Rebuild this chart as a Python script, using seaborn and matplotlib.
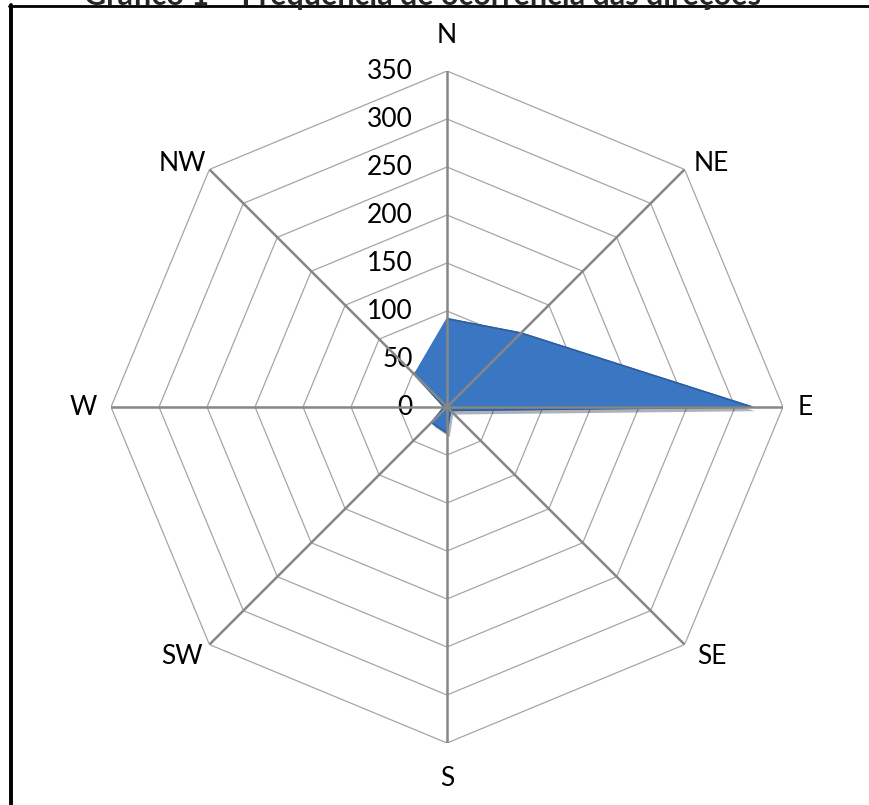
import numpy as np
import pandas as pd
import seaborn as sns
import matplotlib
matplotlib.use("Agg")
from matplotlib import pyplot as plt
from matplotlib.lines import Line2D
import matplotlib.patheffects as pe

# frequency per wind direction
directions = ["N", "NE", "E", "SE", "S", "SW", "W", "NW"]
counts = [92, 109, 318, 5, 27, 23, 3, 48]
rings = [50, 100, 150, 200, 250, 300, 350]
ring_labels = ["0", "50", "100", "150", "200", "250", "300", "350"]
title = "Gráfico 1 – Frequência de ocorrência das direções"

sns.set_theme(style="white")
plt.rcParams['font.family'] = ['Lato', 'DejaVu Sans']

angles = np.arange(len(directions)) * 2 * np.pi / len(directions)
df = pd.DataFrame({"theta": np.append(angles, angles[0]),
                   "r": counts + counts[:1]})

fig = plt.figure(figsize=(8.69, 8.05), dpi=100)
ax = fig.add_axes([111 / 869, 62 / 805, 672 / 869, 672 / 805], projection="polar")
ax.set_theta_zero_location("N")
ax.set_theta_direction(-1)
ax.set_ylim(0, 350)
ax.grid(False)
ax.set_xticks([])
ax.set_yticks([])
ax.spines["polar"].set_visible(False)
ax.patch.set_alpha(0)

closed = np.append(angles, angles[0])
for r in rings:
    ax.plot(closed, [r] * len(closed), color="#a6a6a6", lw=0.9, zorder=1)

# the series
ax.fill(df["theta"], df["r"], color="#3b76c3", zorder=2,
        path_effects=[pe.SimplePatchShadow(offset=(2, -3), alpha=0.35), pe.Normal()])
sns.lineplot(data=df, x="theta", y="r", sort=False, ax=ax, color="#2d5f9e",
             lw=1.2, zorder=3)
ax.set_xlabel("")
ax.set_ylabel("")

for a in angles:
    ax.plot([a, a], [0, 350], color="#878787", lw=1.8, zorder=4)

# radial value labels along the N spoke
for i, lab in enumerate(ring_labels):
    ax.annotate(lab, xy=(0, i * 50), xytext=(-34, 0), textcoords="offset pixels",
                ha="right", va="center", fontsize=19, color="black")

# direction labels
offsets = {"N": (0, 36), "NE": (27, 6), "E": (22, 0), "SE": (27, -12),
           "S": (0, -35), "SW": (-27, -12), "W": (-28, 0), "NW": (-27, 6)}
for a, d in zip(angles, directions):
    ax.annotate(d, xy=(a, 350), xytext=offsets[d], textcoords="offset pixels",
                ha="center", va="center", fontsize=19, color="black")

# chart frame and caption (clipped at the top, as in the source)
fig.text(423 / 869, 1 - 5 / 805, title, ha="center", va="baseline",
         fontsize=22, fontweight="bold")
fig.add_artist(Line2D([9 / 869, 1], [1 - 6.5 / 805] * 2, color="black", lw=2))
fig.add_artist(Line2D([11 / 869] * 2, [0, 1 - 5.5 / 805], color="black", lw=2.8))

plt.savefig("out.png", dpi=100)
